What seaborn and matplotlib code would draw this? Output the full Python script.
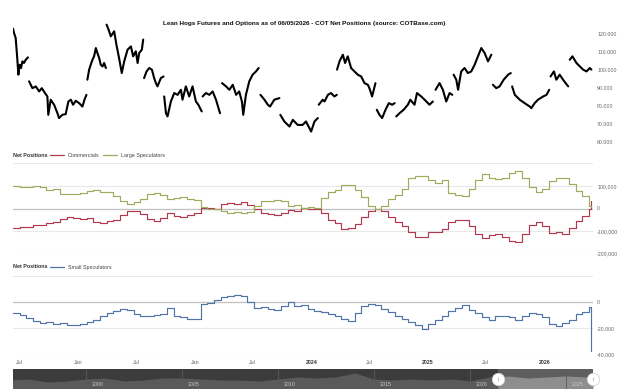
import numpy as np
import pandas as pd
import matplotlib
matplotlib.use("Agg")
import matplotlib.pyplot as plt
import seaborn as sns
from matplotlib.lines import Line2D

sns.set_theme(style="white")
FONTS = ["Liberation Sans Narrow", "Liberation Sans", "DejaVu Sans"]
plt.rcParams["font.family"] = FONTS

START = pd.Timestamp("2021-06-10")

# ---------------- data ----------------
# Net positions (thousands of contracts), one reading every 3 weeks + final week
net_weeks = list(range(0, 259, 3)) + [259]
commercials = [-88, -82, -81, -75, -72, -63, -59, -47, -38, -43, -46, -43, -60, -66, -56, -53,
               -28, -10, -13, -25, -47, -54, -44, -22, -31, -37, -28, -21, 3, 4, 0, 19, 24, 21,
               28, 16, -4, -21, -26, -29, -22, -6, -12,
               3, -1, -3, -22, -52, -66, -90, -88, -67, -39, -9, -1, -13, -37, -58, -76, -106,
               -125, -124, -106, -104, -90, -61, -52, -52, -79, -113, -131, -119, -113, -124,
               -142, -150, -115, -73, -61, -76, -109, -106, -112, -87, -57, -34, -1, 35]
large_specs = [101, 96, 96, 101, 96, 84, 87, 66, 62, 62, 69, 78, 84, 71, 72, 57, 31, 22, 28, 43,
               63, 69, 60, 43, 47, 50, 41, 37, 6, -4, 0, -12, -19, -16, -22, -15, 13, 34, 34, 38,
               31, 10, 15,
               3, 6, 3, 45, 75, 82, 106, 104, 82, 52, 10, -1, 13, 43, 58, 85, 133, 146, 145, 124,
               113, 127, 67, 60, 55, 85, 127, 151, 137, 130, 137, 157, 164, 137, 93, 73, 85, 122,
               137, 134, 107, 78, 55, 13, 5]
small_specs = [-8.6, -10.1, -12.2, -14.9, -16.2, -15.2, -17.0, -16.2, -17.7, -18.0,
               -17.2, -15.7, -14.2, -10.6, -8.6, -6.6, -5.6, -6.3, -9.1, -10.4,
               -10.6, -10.1, -9.1, -4.8, -11.1, -11.9, -12.9, -13.2, -1.5, -0.5,
               1.5, 3.5, 4.6, 5.1, 4.6, 0.3, -4.6, -4.1, -5.3, -6.1,
               -3.0, 0.0, -2.8, -2.5, -5.6, -6.8, -7.8, -8.9, -11.1, -13.2,
               -14.4, -8.6, -3.3, -1.5, -2.3, -5.6, -7.8, -10.6, -13.2, -15.4,
               -17.5, -20.8, -16.7, -14.2, -10.6, -6.8, -4.6, -2.5, -6.1, -8.6,
               -11.6, -13.7, -11.1, -10.9, -11.9, -13.9, -10.4, -8.1, -9.1, -11.6,
               -16.7, -18.5, -16.2, -13.7, -9.6, -7.6, -3.5, -38]

# Price (thousands), weeks since start; None separates contract segments
price_weeks = [0, 0.45, 1.2, 1.9, 2.4, 3.0, 3.6, 4.2, 4.9, 5.7, 6.7, None,
               7.2, 8.7, 10.2, 11.7, 12.9, 14.3, 15.4, 15.8, 16.9, 18.4, 19.9, 20.6, 22.1, 23.6,
               24.8, 25.9, 26.9, 28.1, 29.6, 31.1, 32.0, 32.9, None,
               33.3, 34.1, 34.8, 35.6, 36.3, 37.1, 37.8, 38.6, 39.3, 40.1, 40.8, 41.6, None,
               41.9, 42.8, 43.8, 45.3, 46.3, 47.5, 48.7, 49.8, 51.3, 52.8, 53.8, 55.0, 55.8,
               56.5, 57.7, 58.3, None,
               58.7, 59.8, 61.0, 62.2, 63.2, 64.0, 64.7, 66.2, 67.4, None,
               67.7, 68.5, 69.2, 70.7, 72.2, 73.7, 75.2, 75.9, 77.4, 78.9, 80.4, 81.9, 83.0, 84.5, None,
               84.9, 86.4, 87.9, 89.4, 90.9, 92.7, None,
               93.6, 95.4, 96.9, 98.4, 99.9, 101.3, 102.5, 103.1, 104.3, 105.8, 107.3, 108.8, 110.0, None,
               110.8, 112.6, 114.1, 115.1, 117.0, 119.3, None,
               119.7, 121.5, 123.8, 125.3, 127.5, 129.7, 131.2, 133.5, 135.0, 136.5, None,
               136.9, 138.7, 139.5, 141.0, 142.4, 143.9, 145.0, None,
               145.1, 146.2, 147.7, 148.7, 149.9, 151.4, 152.9, 154.4, 155.9, 157.4, 158.9, 159.6,
               160.8, 162.3, None,
               162.9, 164.1, 165.3, 166.8, 168.3, 169.8, 170.9, None,
               171.6, 173.1, 174.9, 176.8, 177.9, 179.8, 180.9, 182.8, 184.3, 186.5, 188.0, None,
               189.2, 191.0, 192.5, 194.0, 195.5, 196.7, None,
               197.3, 198.5, 199.3, 200.7, 202.2, 203.7, 205.2, 206.7, 208.2, 209.7, 211.2, 212.7,
               214.2, None,
               214.9, 216.4, 217.9, 219.7, 221.7, 222.9, None,
               223.5, 224.7, 226.9, 229.1, 231.4, 232.1, 233.6, 235.1, 237.4, 238.9, 240.1, None,
               240.7, 242.2, 243.3, 244.8, 246.3, 248.6, None,
               249.3, 250.5, 252.3, 253.8, 255.3, 256.8, 258.3, 259.0]
price_k = [123.0, 120.6, 117.8, 106.6, 97.4, 102.9, 101.1, 104.8, 103.9, 105.7, 107.0, None,
           93.7, 89.9, 90.9, 88.1, 89.9, 87.2, 85.3, 75.1, 83.5, 80.7, 76.0, 73.3, 75.1, 75.5,
           82.5, 83.5, 80.7, 82.9, 81.6, 79.7, 83.5, 86.2, None,
           94.6, 100.2, 102.9, 105.7, 107.6, 112.2, 109.4, 106.6, 102.9, 102.0, 103.9, 101.1, None,
           125.2, 122.4, 118.7, 121.5, 114.1, 106.6, 98.3, 104.8, 111.3, 113.1, 107.6, 110.4, 103.9,
           109.4, 111.3, 116.9, None,
           95.5, 99.2, 101.1, 100.2, 95.5, 92.7, 90.9, 95.5, 96.4, None,
           85.3, 76.0, 74.2, 82.5, 87.2, 86.2, 89.0, 83.5, 90.9, 85.3, 90.9, 82.5, 80.7, 77.0, None,
           85.3, 87.2, 86.2, 88.1, 83.5, 76.0, None,
           92.7, 90.9, 89.0, 91.8, 86.2, 88.1, 82.5, 75.1, 86.2, 93.7, 97.4, 99.2, 101.1, None,
           86.2, 83.5, 80.7, 79.7, 83.5, 84.4, None,
           75.1, 71.4, 68.6, 72.3, 69.5, 69.5, 71.4, 65.8, 71.4, 73.3, None,
           80.7, 83.5, 82.5, 86.2, 87.2, 85.3, 86.2, None,
           100.2, 104.8, 108.5, 103.9, 107.6, 101.1, 99.2, 97.4, 96.4, 92.7, 91.8, 89.9,
           85.3, 92.7, None,
           77.9, 75.1, 73.3, 77.9, 81.6, 80.7, 81.6, None,
           74.2, 76.0, 77.9, 80.7, 83.5, 80.7, 87.2, 85.3, 83.5, 80.7, 82.5, None,
           89.0, 92.7, 89.0, 82.5, 87.2, 86.2, None,
           97.4, 94.6, 89.0, 99.2, 101.1, 98.3, 99.2, 102.9, 107.6, 112.2, 109.4, 104.8,
           108.5, None,
           91.8, 89.9, 90.9, 94.6, 97.4, 98.3, None,
           90.9, 86.2, 83.5, 81.6, 79.7, 78.8, 81.6, 83.5, 85.3, 86.2, 89.0, None,
           96.4, 99.2, 94.6, 97.4, 94.6, 90.9, None,
           105.7, 107.6, 103.9, 102.0, 100.2, 99.2, 101.1, 100.2]

# Navigator overview (relative level), yearly 1996..2026
nav_years = list(range(1996, 2027))
nav_level = [0.45, 0.50, 0.35, 0.40, 0.50, 0.55, 0.40, 0.45, 0.55, 0.55, 0.50, 0.45, 0.45,
             0.40, 0.50, 0.60, 0.55, 0.60, 0.80, 0.50, 0.45, 0.50, 0.45, 0.50, 0.40, 0.60,
             0.65, 0.55, 0.60, 0.65, 0.60]

x_tick_dates = ["2021-07-01", "2022-01-01", "2022-07-01", "2023-01-01", "2023-07-01",
                "2024-01-01", "2024-07-01", "2025-01-01", "2025-07-01", "2026-01-01"]
x_tick_labels = ["Jul", "Jan", "Jul", "Jan", "Jul", "2024", "Jul", "2025", "Jul", "2026"]

TITLE = "Lean Hogs Futures and Options as of 06/05/2026 - COT Net Positions (source: COTBase.com)"

# ---------------- frames ----------------
net = pd.DataFrame({
    "date": START + pd.to_timedelta(np.array(net_weeks) * 7, unit="D"),
    "Commercials": np.array(commercials) * 1000,
    "Large Speculators": np.array(large_specs) * 1000,
    "Small Speculators": np.array(small_specs) * 1000,
})

seg, segs, pw, pv = 0, [], [], []
for w, v in zip(price_weeks, price_k):
    if w is None:
        seg += 1
        continue
    segs.append(seg); pw.append(w); pv.append(v)
price = pd.DataFrame({"date": START + pd.to_timedelta(np.array(pw) * 7, unit="D"),
                      "price": np.array(pv) * 1000, "seg": segs})

RED, GREEN, BLUE = "#b3384f", "#9cad5c", "#4f74a8"
GRID, ZERO, TXT = "#e8e8e8", "#c2c2c2", "#666666"

W, H = 625, 389
fig = plt.figure(figsize=(W / 100, H / 100), dpi=100)
L, R = 13, 593
def box(top, bot):
    return [L / W, 1 - bot / H, (R - L) / W, (bot - top) / H]

ax1 = fig.add_axes(box(16, 142))
ax2 = fig.add_axes(box(163.3, 253.7))
ax3 = fig.add_axes(box(276, 354))
axn = fig.add_axes(box(369, 389))

xmin, xmax = START, START + pd.Timedelta(days=1818)

# price
sns.lineplot(data=price, x="date", y="price", units="seg", estimator=None, color="black",
             lw=1.5, ax=ax1, legend=False)
ax1.set_ylim(60000, 130000)
ax1.set_yticks([60000, 70000, 80000, 90000, 100000, 110000, 120000])
ax1.set_yticklabels([f"{v}.000" for v in range(60, 130, 10)])

# commercials / large specs
for col, c in [("Commercials", RED), ("Large Speculators", GREEN)]:
    sns.lineplot(data=net, x="date", y=col, color=c, lw=0.85, drawstyle="steps-post",
                 estimator=None, ax=ax2, legend=False)
ax2.set_ylim(-200000, 200000)
ax2.set_yticks([-200000, -100000, 0, 100000, 200000])
ax2.set_yticklabels(["-200,000", "-100,000", "0", "100,000", ""])

sns.lineplot(data=net, x="date", y="Small Speculators", color=BLUE, lw=0.85,
             drawstyle="steps-post", estimator=None, ax=ax3, legend=False)
ax3.set_ylim(-40000, 20000)
ax3.set_yticks([-40000, -20000, 0, 20000])
ax3.set_yticklabels(["-40,000", "-20,000", "0", ""])

for ax in (ax1, ax2, ax3):
    ax.set_xlim(xmin, xmax)
    ax.set_xlabel(""); ax.set_ylabel("")
    for s in ax.spines.values():
        s.set_visible(False)
    ax.yaxis.tick_right()
    ax.tick_params(axis="y", length=0, pad=3, labelsize=3.8, labelcolor=TXT)
    ax.set_facecolor("none")

for ax in (ax2, ax3):
    ax.grid(axis="y", color=GRID, lw=0.8)
    ax.set_axisbelow(True)
    ax.axhline(0, color=ZERO, lw=0.9, zorder=1)

ax1.set_xticks([]); ax2.set_xticks([])
ax3.set_xticks(pd.to_datetime(x_tick_dates))
ax3.set_xticklabels(x_tick_labels)
ax3.tick_params(axis="x", length=0, pad=4, labelsize=3.8, labelcolor=TXT)
for t in ax3.get_xticklabels():
    if t.get_text().isdigit():
        t.set_fontweight("bold"); t.set_color("#333333")

# legends
def legend_row(ypix, items):
    y = 1 - ypix / H
    fig.text(13 / W, y, "Net Positions", fontsize=3.9, fontweight="bold", color="#333333",
             va="center", ha="left")
    for x0, color, label in items:
        fig.add_artist(Line2D([x0 / W, (x0 + 14) / W], [y, y], color=color, lw=0.9))
        fig.text((x0 + 18) / W, y, label, fontsize=3.9, color="#444444", va="center", ha="left")

legend_row(155, [(50, RED, "Commercials"), (103, GREEN, "Large Speculators")])
legend_row(267, [(50, BLUE, "Small Speculators")])

fig.text(304 / W, 1 - 24 / H, TITLE, fontsize=4.6, fontweight="bold", color="#111111",
         ha="center", va="center")

# navigator
axn.set_xlim(1996.2, 2026.4)
axn.set_ylim(0, 1)
axn.set_facecolor("#3c3c3c")
axn.fill_between(nav_years, nav_level, color="#5a5a5a", lw=0)
axn.axvspan(2021.45, 2026.4, color="#5e5e5e", lw=0)
sel_y = [y for y in nav_years if y >= 2021]
sel_v = [v for y, v in zip(nav_years, nav_level) if y >= 2021]
axn.fill_between([2021.45] + sel_y[1:] + [2026.4], [sel_v[0]] + sel_v[1:] + [sel_v[-1]],
                 color="#8e8e8e", lw=0)
for yr in range(2000, 2030, 5):
    axn.axvline(yr, color="#5a5a5a", lw=0.6)
    axn.text(yr + 0.3, 0.25, str(yr), fontsize=3.8, color="#c8c8c8", va="center", ha="left")
for hx in (2021.45, 2026.4):
    axn.plot([hx], [0.5], marker="o", ms=9, mfc="white", mec="#cccccc", mew=0.5,
             clip_on=False, zorder=5)
    axn.plot([hx], [0.5], marker="|", ms=3, color="#aaaaaa", mew=0.5, clip_on=False, zorder=6)
axn.set_xticks([]); axn.set_yticks([])
for s in axn.spines.values():
    s.set_visible(False)

fig.savefig("out.png", dpi=100, facecolor="white")
